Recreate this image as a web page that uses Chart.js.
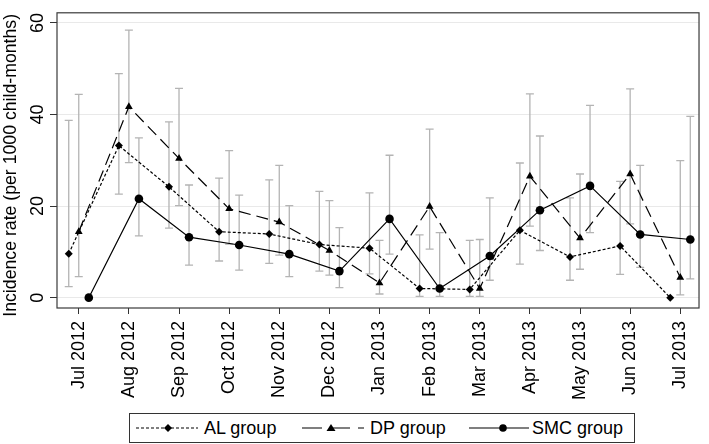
<!DOCTYPE html>
<html>
<head>
<meta charset="utf-8">
<title>Incidence rate by group</title>
<script src="https://cdn.jsdelivr.net/npm/chart.js@4.4.1/dist/chart.umd.min.js"></script>
<style>
  body { margin: 0; background: #fff; font-family: "Liberation Sans", Arial, sans-serif; }
  #wrap { position: relative; width: 709px; height: 444px; }
  #chartBox { position: absolute; left: 0; top: 0; width: 709px; height: 400px; }
  #legend {
    position: absolute; left: 129px; top: 413px; width: 506px; height: 30px;
    box-sizing: border-box; border: 1px solid #333; font-size: 18px; color: #000;
  }
  #legend svg, #legend span { position: absolute; }
  #legend span { top: 3px; line-height: 22px; }
</style>
</head>
<body>
<div id="wrap">
  <div id="chartBox"><canvas id="rateChart"></canvas></div>
  <div id="legend">
    <svg style="left:6px;top:7px" width="62" height="14">
      <line x1="0" y1="7" x2="62" y2="7" stroke="#000" stroke-width="1.2" stroke-dasharray="3,2"/>
      <polygon points="32,3 36,7 32,11 28,7" fill="#000"/>
    </svg>
    <span style="left:74px">AL group</span>
    <svg style="left:172px;top:7px" width="62" height="14">
      <line x1="0" y1="7" x2="62" y2="7" stroke="#000" stroke-width="1.2" stroke-dasharray="20,8"/>
      <polygon points="29,3 33.5,10 24.5,10" fill="#000"/>
    </svg>
    <span style="left:240px">DP group</span>
    <svg style="left:339px;top:7px" width="60" height="14">
      <line x1="0" y1="7" x2="60" y2="7" stroke="#000" stroke-width="1.2"/>
      <circle cx="34" cy="7" r="3.8" fill="#000"/>
    </svg>
    <span style="left:402px">SMC group</span>
  </div>
</div>
<script>
/* month categories on the x axis */
const months = ["Jul 2012", "Aug 2012", "Sep 2012", "Oct 2012", "Nov 2012", "Dec 2012",
  "Jan 2013", "Feb 2013", "Mar 2013", "Apr 2013", "May 2013", "Jun 2013", "Jul 2013"];

/* incidence per 1000 child-months, with 95% CI (null = no interval drawn) */
const alRate  = [9.6, 33.2, 24.2, 14.4, 13.9, 11.6, 10.8, 2.0, 1.8, 14.7, 8.9, 11.3, 0];
const alLower = [2.4, 22.6, 15.2, 8.0, 7.5, 5.8, 5.2, 0.3, 0.3, 7.3, 3.8, 5.1, null];
const alUpper = [38.7, 48.9, 38.4, 26.1, 25.7, 23.2, 22.9, 13.7, 12.5, 29.4, 21.8, 25.4, null];

const dpRate  = [14.4, 41.7, 30.4, 19.4, 16.5, 10.3, 3.2, 19.9, 2.0, 26.5, 13.0, 27.0, 4.4];
const dpLower = [4.6, 29.5, 20.1, 11.7, 9.3, 4.9, 0.8, 10.6, 0.3, 15.6, 6.2, 16.1, 0.6];
const dpUpper = [44.4, 58.4, 45.7, 32.1, 28.9, 21.2, 12.5, 36.8, 12.7, 44.5, 27.0, 45.6, 29.9];

const smcRate  = [0, 21.6, 13.2, 11.5, 9.5, 5.8, 17.2, 2.0, 9.1, 19.1, 24.4, 13.8, 12.7];
const smcLower = [null, 13.5, 7.1, 6.0, 4.6, 2.2, 9.5, 0.3, 3.8, 10.3, 14.2, 6.6, 4.1];
const smcUpper = [null, 34.9, 24.6, 22.4, 20.1, 15.3, 31.1, 14.2, 21.8, 35.3, 42.0, 28.9, 39.6];

const yTicks = [0, 20, 40, 60];

/* each group is nudged sideways so the intervals don't overlap */
const GROUP_SHIFT = { AL: -0.2, DP: 0, SMC: 0.2 };

function toPoints(values, shift) {
  return values.map((v, i) => ({ x: i + shift, y: v }));
}

const FONT = { family: "'Liberation Sans', Arial, sans-serif", size: 18 };

/**
 * Grey CI whiskers with caps, drawn under the lines and markers.
 */
const errorBarPlugin = {
  id: "errorBars",
  beforeDatasetsDraw(chart) {
    const { ctx, scales: { x, y } } = chart;
    ctx.save();
    ctx.strokeStyle = "#b4b4b4";
    ctx.lineWidth = 1.3;
    chart.data.datasets.forEach((ds) => {
      ds.data.forEach((pt, i) => {
        const lo = ds.lower[i], hi = ds.upper[i];
        if (lo == null || hi == null) return;
        const px = x.getPixelForValue(pt.x);
        const yl = y.getPixelForValue(lo);
        const yh = y.getPixelForValue(hi);
        ctx.beginPath();
        ctx.moveTo(px, yl); ctx.lineTo(px, yh);
        ctx.moveTo(px - 4, yl); ctx.lineTo(px + 4, yl);
        ctx.moveTo(px - 4, yh); ctx.lineTo(px + 4, yh);
        ctx.stroke();
      });
    });
    ctx.restore();
  },
};

/**
 * Dark outline round the plot region.
 */
const framePlugin = {
  id: "frame",
  afterDatasetsDraw(chart) {
    const { ctx, chartArea: a } = chart;
    ctx.save();
    ctx.strokeStyle = "#3a3a3a";
    ctx.lineWidth = 1.2;
    ctx.strokeRect(a.left, a.top, a.right - a.left, a.bottom - a.top);
    ctx.restore();
  },
};

function lineSet(label, rate, lower, upper, shift, dash, style, radius) {
  return {
    label,
    data: toPoints(rate, shift),
    lower,
    upper,
    borderColor: "#000",
    borderWidth: 1.2,
    borderDash: dash,
    pointStyle: style,
    pointRadius: radius,
    pointBackgroundColor: "#000",
    pointBorderColor: "#000",
    pointBorderWidth: 0,
    tension: 0,
    fill: false,
  };
}

new Chart(document.getElementById("rateChart"), {
  type: "line",
  data: {
    datasets: [
      lineSet("AL group", alRate, alLower, alUpper, GROUP_SHIFT.AL, [3, 2], "rectRot", 4),
      lineSet("DP group", dpRate, dpLower, dpUpper, GROUP_SHIFT.DP, [12, 6], "triangle", 4.5),
      lineSet("SMC group", smcRate, smcLower, smcUpper, GROUP_SHIFT.SMC, [], "circle", 4.3),
    ],
  },
  options: {
    responsive: true,
    maintainAspectRatio: false,
    animation: false,
    layout: { padding: { top: 3, right: 3, left: 0, bottom: 0 } },
    plugins: {
      legend: { display: false },
      tooltip: { enabled: false },
    },
    scales: {
      x: {
        type: "linear",
        min: -0.434,
        max: 12.374,
        afterBuildTicks: (s) => { s.ticks = months.map((m, i) => ({ value: i })); },
        afterFit: (s) => { s.height = 92; },
        border: { display: false },
        grid: { drawOnChartArea: false, drawTicks: true, tickLength: 6, tickColor: "#333", lineWidth: 1 },
        ticks: {
          autoSkip: false,
          minRotation: 90,
          maxRotation: 90,
          padding: 7,
          color: "#000",
          font: FONT,
          callback: (v) => months[v],
        },
      },
      y: {
        min: -2.26,
        max: 62.2,
        afterBuildTicks: (s) => { s.ticks = yTicks.map((v) => ({ value: v })); },
        afterFit: (s) => { s.width = 57; },
        border: { display: false },
        grid: { color: "#e9e9e9", lineWidth: 1, tickLength: 7, tickColor: "#333" },
        title: {
          display: true,
          // trailing spaces nudge the centred title down a little, as in the original
          text: "Incidence rate (per 1000 child-months)\u00a0\u00a0",
          color: "#000",
          font: { family: FONT.family, size: 17.7 },
          padding: { top: 0, bottom: 0 },
        },
        ticks: {
          minRotation: 90,
          maxRotation: 90,
          crossAlign: "center",
          padding: 2,
          color: "#000",
          font: FONT,
        },
      },
    },
  },
  plugins: [errorBarPlugin, framePlugin],
});
</script>
</body>
</html>
